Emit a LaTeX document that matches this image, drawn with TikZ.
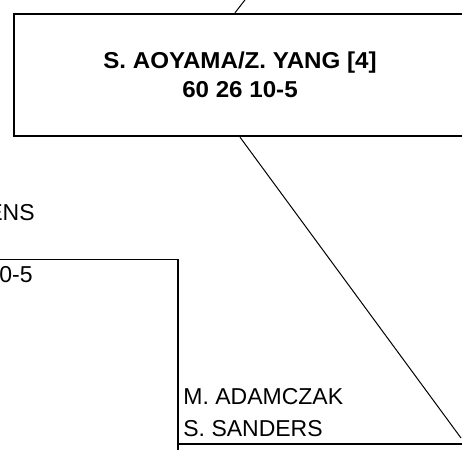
\documentclass[tikz,border=0pt]{standalone}
\usepackage{fontspec}
\setmainfont{Liberation Sans}
\newfontfamily\widesans{Liberation Sans}[FakeStretch=1.05]
\usetikzlibrary{positioning, calc}

\begin{document}
\begin{tikzpicture}[x=0.5pt, y=-0.5pt]
    \tikzstyle{final} = [rectangle, draw, line width=1.2pt, minimum width=226pt, minimum height=61pt, align=center, font=\widesans\bfseries\fontsize{11.5}{14.5}\selectfont]
    \tikzstyle{pair} = [inner sep=0pt, align=left, font=\fontsize{11.5}{16}\selectfont]
    \tikzstyle{link} = [line width=0.5pt]
    \tikzstyle{bracket} = [line width=0.6pt]

    \useasboundingbox (0,0) rectangle (462,450);
    \clip (0,0) rectangle (462,450);

    % Define nodes
    \node[final] (final) at (240,75) {S. AOYAMA/Z. YANG [4]\\60 26 10-5};
    \node[pair, anchor=base east] (pairA) at (35,220) {ENS};
    \node[pair, anchor=base east] (scoreA) at (33,282) {0-5};
    \node[pair, anchor=south west] (pairB) at (183,437) {M. ADAMCZAK\\S. SANDERS};

    % Define bracket corners
    \coordinate (lineA) at (-10,259.5);
    \coordinate (cornerA) at (178,259.5);
    \coordinate (tail) at (178,460);
    \coordinate (lineB) at (178,444);
    \coordinate (endB) at (470,444);
    \coordinate (tipB) at (461,438);
    \coordinate (prev) at (248,-4);

    % Draw edges
    \draw[bracket] (lineA) -- (cornerA) -- (tail);
    \draw[bracket] (lineB) -- (endB);
    \draw[link] (final.south) -- (tipB);
    \draw[link] ([xshift=-2.5pt]final.north) -- (prev);
\end{tikzpicture}
\end{document}
